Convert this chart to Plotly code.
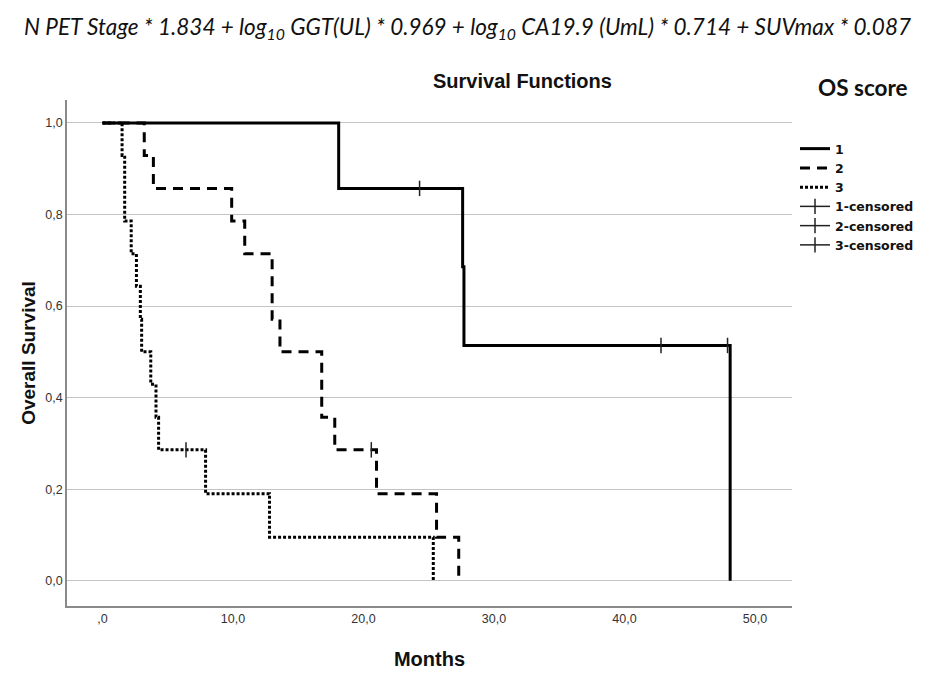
import plotly.graph_objects as go

# OS score groups: step times (months) and survival levels
g1_time = [0, 18.1, 27.6, 27.7, 48.1]
g1_surv = [1.0, 0.857, 0.686, 0.514, 0.0]
g1_cens_time = [24.3, 42.8, 47.9]
g1_cens_surv = [0.857, 0.514, 0.514]

g2_time = [0, 3.2, 3.9, 9.9, 10.9, 13.0, 13.6, 16.8, 17.8, 21.0, 25.6, 27.3]
g2_surv = [1.0, 0.929, 0.857, 0.786, 0.714, 0.571, 0.5, 0.357, 0.286, 0.190, 0.095, 0.0]
g2_cens_time = [20.6]
g2_cens_surv = [0.286]

g3_time = [0, 1.5, 1.7, 2.2, 2.6, 2.9, 3.0, 3.7, 4.1, 4.3, 7.9, 12.8, 25.35]
g3_surv = [1.0, 0.929, 0.786, 0.714, 0.643, 0.571, 0.5, 0.429, 0.357, 0.286, 0.190, 0.095, 0.0]
g3_cens_time = [6.4]
g3_cens_surv = [0.286]

x_ticks = [0, 10, 20, 30, 40, 50]
x_labels = [',0', '10,0', '20,0', '30,0', '40,0', '50,0']
y_ticks = [0, 0.2, 0.4, 0.6, 0.8, 1.0]
y_labels = ['0,0', '0,2', '0,4', '0,6', '0,8', '1,0']

formula = ('N PET Stage * 1.834 + log<sub>10</sub> GGT(UL) * 0.969 + log<sub>10</sub> '
           'CA19.9 (UmL) * 0.714 + SUVmax * 0.087')

# the page body adds an 8px margin, so the figure is shifted to compensate
OFF = 8
W, H = 935, 680
L, R, T, B = 67, 792, 100, 606   # plot area on screen (px)
PW, PH = R - L, B - T


def px_x(x):
    return (x - L) / PW


def px_y(y):
    return (B - y) / PH


def gapped(xs, ys):
    # break the line between censor marks so only the ticks show on the chart
    gx, gy = [], []
    for a, b in zip(xs, ys):
        gx += [a, None]
        gy += [b, None]
    return gx[:-1], gy[:-1]


fig = go.Figure()

curves = [('1', g1_time, g1_surv, 'solid'),
          ('2', g2_time, g2_surv, '10px,7px'),
          ('3', g3_time, g3_surv, '3px,2px')]
for name, t, s, dash in curves:
    fig.add_trace(go.Scatter(x=t, y=s, name=name, mode='lines', line_shape='hv',
                             line=dict(color='black', width=3, dash=dash)))

censored = [('1-censored', g1_cens_time, g1_cens_surv),
            ('2-censored', g2_cens_time, g2_cens_surv),
            ('3-censored', g3_cens_time, g3_cens_surv)]
for name, t, s in censored:
    cx, cy = gapped(t, s)
    fig.add_trace(go.Scatter(x=cx, y=cy, name=name, mode='lines+markers',
                             line=dict(color='#222222', width=1.5),
                             marker=dict(symbol='line-ns', size=11,
                                         line=dict(color='#222222', width=1.5))))

fig.update_layout(
    width=W, height=H,
    margin=dict(l=L - OFF, r=W - R + OFF, t=T - OFF, b=H - B + OFF),
    paper_bgcolor='white', plot_bgcolor='white',
    font=dict(family='Liberation Sans', color='#222222'),
    showlegend=True,
    legend=dict(x=px_x(795), xanchor='left', y=px_y(134), yanchor='top',
                font=dict(family='DejaVu Sans', size=12.5, color='#111111', weight='bold'),
                tracegroupgap=0, itemwidth=30, bgcolor='rgba(0,0,0,0)'),
    annotations=[
        dict(text=formula, xref='paper', yref='paper', x=px_x(467), y=px_y(28),
             xanchor='center', yanchor='middle', showarrow=False,
             font=dict(family='Lato', size=22.5, style='italic', color='#111111')),
        dict(text='<b>Survival Functions</b>', xref='paper', yref='paper',
             x=px_x(522), y=px_y(81), xanchor='center', yanchor='middle',
             showarrow=False, font=dict(family='Liberation Sans', size=20, color='#111111')),
        dict(text='<b>OS score</b>', xref='paper', yref='paper',
             x=px_x(863), y=px_y(88), xanchor='center', yanchor='middle',
             showarrow=False, font=dict(family='Lato', size=22.5, color='#111111')),
    ],
)

fig.update_xaxes(range=[-2.72, 52.84], tickvals=x_ticks, ticktext=x_labels,
                 showgrid=False, zeroline=False, showline=True, linecolor='#8a8a8a',
                 linewidth=1.5, ticks='', tickfont=dict(size=12.5, color='#333333'),
                 title=dict(text='<b>Months</b>', font=dict(size=20, color='#111111'),
                            standoff=27))
fig.update_yaxes(range=[-0.055, 1.05], tickvals=y_ticks, ticktext=y_labels,
                 showgrid=True, gridcolor='#c4c4c4', gridwidth=1, zeroline=False,
                 showline=True, linecolor='#8a8a8a', linewidth=1.5, ticks='',
                 tickfont=dict(size=12.5, color='#333333'),
                 title=dict(text='<b>Overall Survival</b>', font=dict(size=19, color='#111111'),
                            standoff=5))

fig.write_html("out.html")
